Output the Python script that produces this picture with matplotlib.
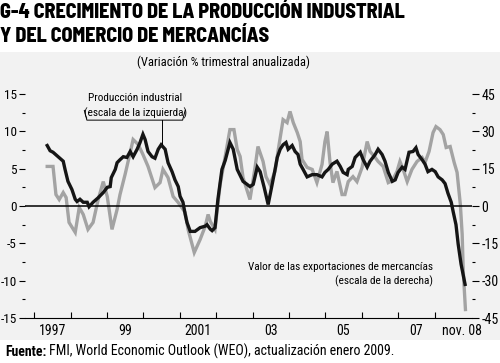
import matplotlib
matplotlib.use('Agg')
import matplotlib.pyplot as plt
from matplotlib.patches import Rectangle
from matplotlib import font_manager as fm

avail = set(f.name for f in fm.fontManager.ttflist)


def pick(cands):
    for c in cands:
        if c in avail:
            return c
    return 'DejaVu Sans'


BODY = pick(['Roboto Condensed', 'Archivo Narrow', 'Fira Sans Condensed', 'Barlow Semi Condensed',
             'Liberation Sans Narrow'])
TITLE = pick(['Barlow Semi Condensed', 'Roboto Condensed', 'Archivo Narrow', 'Fira Sans Condensed'])
plt.rcParams['font.family'] = [BODY, 'DejaVu Sans']
plt.rcParams['axes.unicode_minus'] = False

# Industrial production (left scale), dates in fractional years
ip_dates = [1997.36, 1997.44, 1997.52, 1997.66, 1997.80, 1997.85, 1997.93, 1998.04, 1998.13, 1998.18,
            1998.26, 1998.35, 1998.46, 1998.51, 1998.62, 1998.76, 1998.90, 1999.01, 1999.09, 1999.12,
            1999.23, 1999.28, 1999.36, 1999.45, 1999.55, 1999.64, 1999.72, 1999.83, 1999.91, 1999.99,
            2000.05, 2000.13, 2000.24, 2000.32, 2000.41, 2000.49, 2000.60, 2000.68, 2000.79, 2000.87,
            2000.96, 2001.01, 2001.09, 2001.15, 2001.20, 2001.29, 2001.42, 2001.56, 2001.70, 2001.75,
            2001.84, 2001.89, 2001.97, 2002.05, 2002.16, 2002.25, 2002.38, 2002.47, 2002.58, 2002.66,
            2002.74, 2002.85, 2002.93, 2003.02, 2003.13, 2003.21, 2003.32, 2003.43, 2003.54, 2003.62,
            2003.68, 2003.76, 2003.84, 2003.92, 2003.98, 2004.09, 2004.17, 2004.25, 2004.31, 2004.39,
            2004.50, 2004.64, 2004.77, 2004.91, 2004.99, 2005.08, 2005.19, 2005.32, 2005.41, 2005.49,
            2005.60, 2005.63, 2005.74, 2005.82, 2005.96, 2006.04, 2006.15, 2006.23, 2006.37, 2006.45,
            2006.56, 2006.64, 2006.73, 2006.84, 2006.92, 2007.00, 2007.11, 2007.19, 2007.30, 2007.41,
            2007.49, 2007.55, 2007.66, 2007.74, 2007.82, 2007.93, 2008.02, 2008.10, 2008.21, 2008.29,
            2008.37, 2008.46, 2008.51, 2008.59, 2008.65, 2008.73, 2008.84]
ip_values = [8.1, 7.4, 7.2, 6.6, 6.0, 4.9, 3.3, 2.2, 0.9, 0.6,
             0.9, 0.5, 0.5, -0.1, 0.5, 1.1, 1.8, 2.5, 2.6, 3.8,
             4.9, 5.8, 6.2, 6.6, 6.5, 7.3, 6.6, 7.6, 8.5, 9.6,
             8.9, 7.3, 6.6, 6.4, 7.6, 8.2, 7.6, 5.8, 4.6, 3.5,
             2.6, 1.3, 0.5, -1.1, -2.2, -3.4, -3.4, -2.9, -2.7, -2.5,
             -3.1, -3.3, -2.9, 0.9, 4.9, 6.1, 8.5, 7.6, 4.9, 4.1,
             3.3, 2.9, 2.6, 2.9, 5.2, 4.6, 2.5, 0.2, 2.9, 4.9,
             6.5, 7.6, 8.2, 8.5, 7.6, 8.1, 7.3, 6.9, 5.6, 4.9,
             3.9, 4.2, 4.2, 3.9, 4.5, 4.9, 5.6, 6.0, 5.3, 4.5,
             4.2, 4.9, 5.3, 6.5, 7.2, 6.2, 5.2, 6.0, 6.9, 7.6,
             6.9, 6.0, 4.5, 3.3, 3.5, 4.5, 5.2, 4.9, 7.2, 7.3,
             7.8, 6.9, 6.2, 5.6, 4.6, 4.9, 4.6, 3.9, 3.5, 3.0,
             1.7, 0.5, -0.7, -2.5, -5.1, -7.8, -10.5]

# Value of merchandise exports (right scale)
exp_dates = [1997.36, 1997.52, 1997.60, 1997.69, 1997.80, 1997.88, 1997.96, 1998.13, 1998.24, 1998.35,
             1998.48, 1998.62, 1998.76, 1998.90, 1999.01, 1999.14, 1999.28, 1999.36, 1999.50, 1999.64,
             1999.72, 1999.86, 1999.99, 2000.13, 2000.32, 2000.46, 2000.54, 2000.68, 2000.82, 2000.96,
             2001.15, 2001.23, 2001.40, 2001.56, 2001.70, 2001.78, 2001.84, 2001.97, 2002.11, 2002.25,
             2002.38, 2002.49, 2002.58, 2002.66, 2002.74, 2002.93, 2003.07, 2003.15, 2003.29, 2003.37,
             2003.48, 2003.62, 2003.70, 2003.84, 2003.95, 2004.03, 2004.12, 2004.23, 2004.31, 2004.36,
             2004.50, 2004.64, 2004.77, 2004.91, 2004.99, 2005.05, 2005.13, 2005.21, 2005.32, 2005.46,
             2005.54, 2005.63, 2005.76, 2005.87, 2006.01, 2006.15, 2006.23, 2006.37, 2006.45, 2006.59,
             2006.73, 2006.84, 2006.97, 2007.05, 2007.14, 2007.25, 2007.38, 2007.52, 2007.66, 2007.74,
             2007.85, 2007.96, 2008.04, 2008.15, 2008.24, 2008.32, 2008.43, 2008.54, 2008.62, 2008.71,
             2008.76, 2008.79, 2008.85]
exp_values = [15.9, 15.9, 4.6, 2.6, 5.4, 3.4, -6.6, -10.6, -0.6, -3.4,
              -9.4, -6.6, 2.6, 9.8, 3.8, -9.4, -1.4, 4.6, 12.7, 21.5,
              26.7, 24.7, 20.7, 15.9, 7.4, 9.4, 14.7, 11.4, 3.8, 1.4,
              -2.6, -9.4, -18.7, -13.5, -8.2, -3.4, -6.2, -9.4, 8.6, 19.9,
              30.7, 30.7, 22.7, 19.9, 11.4, 2.6, 15.5, 23.9, 17.9, 11.8,
              8.6, 13.9, 21.9, 34.7, 33.5, 38.0, 33.5, 29.5, 25.9, 18.7,
              15.5, 14.7, 9.4, 16.7, 25.9, 29.9, 17.5, 9.4, 13.9, 4.6,
              4.6, 9.8, 11.8, 9.8, 15.5, 25.9, 21.9, 19.5, 17.9, 15.9,
              9.4, 10.2, 13.9, 17.9, 14.7, 9.8, 14.7, 17.9, 19.5, 17.5,
              21.9, 29.5, 31.9, 30.7, 28.7, 23.5, 23.9, 17.5, 13.5, 0.6,
              -11.4, -26.3, -41.6]

year_ticks = list(range(1997, 2009))
year_label_pos = [1997.5, 1999.5, 2001.5, 2003.5, 2005.5, 2007.5, 2008.76]
year_labels = ['1997', '99', '2001', '03', '05', '07', 'nov. 08']
left_ticks = [15, 10, 5, 0, -5, -10, -15]
left_minor = [12.5, 7.5, 2.5, -2.5, -7.5, -12.5]
right_ticks = [45, 30, 15, 0, -15, -30, -45]
right_minor = [37.5, 22.5, 7.5, -7.5, -22.5, -37.5]

W, H = 500, 363
fig = plt.figure(figsize=(5, 3.63), dpi=100)
fig.add_artist(Rectangle((0, 1 - 340 / H), 1, (340 - 52) / H, transform=fig.transFigure,
                         facecolor='#f2f2f2', edgecolor='none', zorder=-5))


def fit(t, target):
    r = fig.canvas.get_renderer()
    w = t.get_window_extent(r).width
    if w > 0:
        t.set_fontsize(t.get_fontsize() * target / w)


ax = fig.add_axes([25 / W, 1 - 318 / H, (472 - 25) / W, 224 / H])
ax2 = ax.twinx()
ax.set_zorder(ax2.get_zorder() + 1)
ax.patch.set_visible(False)
ax2.patch.set_visible(False)

ax2.plot(exp_dates, exp_values, color='#a3a3a3', lw=2.4, solid_joinstyle='miter')
ax.plot(ip_dates, ip_values, color='#151515', lw=2.4, solid_joinstyle='miter')
ax.axhline(0, color='black', lw=1.1, zorder=1)

ax.set_xlim(1996.75, 2009.03)
ax.set_ylim(-15, 15)
ax2.set_ylim(-45, 45)

for a in (ax, ax2):
    for s in ('top', 'right', 'left'):
        a.spines[s].set_visible(False)
ax2.spines['bottom'].set_visible(False)
ax.spines['bottom'].set_linewidth(0.8)

ax.set_xticks(year_ticks)
ax.set_xticklabels([])
ax.set_xticks(year_label_pos, minor=True)
ax.set_xticklabels(year_labels, minor=True)
ax.tick_params(axis='x', which='major', direction='in', length=4, width=0.8)
ax.tick_params(axis='x', which='minor', length=0, pad=4, labelsize=10)

ax.set_yticks(left_ticks)
ax.set_yticks(left_minor, minor=True)
ax.tick_params(axis='y', which='major', direction='out', length=4.5, width=0.8, pad=1.5, labelsize=9.5)
ax.tick_params(axis='y', which='minor', direction='out', length=2.5, width=0.8)

ax2.set_yticks(right_ticks)
ax2.set_yticks(right_minor, minor=True)
ax2.tick_params(axis='y', which='major', direction='out', length=5, width=0.8, pad=2, labelsize=10)
ax2.tick_params(axis='y', which='minor', direction='out', length=2.5, width=0.8)

# annotations
a1 = ax.text(1999.78, 14.5, 'Producción industrial', ha='center', va='center', fontsize=9.5)
a2 = ax.text(1999.78, 12.4, '(escala de la izquierda)', ha='center', va='center', fontsize=9.5)
ax.plot([1998.38, 1998.45, 2001.08, 2001.15], [12.8, 11.5, 11.5, 12.8], color='black', lw=0.7)
ax.plot([2000.51, 2000.51], [11.5, 8.3], color='black', lw=0.7)
b1 = ax.text(2007.96, -8.2, 'Valor de las exportaciones de mercancías', ha='right', va='center', fontsize=9.5)
b2 = ax.text(2007.96, -10.1, '(escala de la derecha)', ha='right', va='center', fontsize=9.5)

# titles
t_a = fig.text(0.0, 1 - 18 / H, 'G-4 CRECIMIENTO DE LA PRODUCCIÓN INDUSTRIAL', ha='left', va='baseline',
               fontsize=13, fontweight='heavy', family=[TITLE, 'DejaVu Sans'])
t_b = fig.text(0.0, 1 - 42 / H, 'Y DEL COMERCIO DE MERCANCÍAS', ha='left', va='baseline',
               fontsize=13, fontweight='heavy', family=[TITLE, 'DejaVu Sans'])
sub = fig.text(223 / W, 1 - 62 / H, '(Variación % trimestral anualizada)', ha='center', va='center',
               fontsize=9.5)

t1 = fig.text(5 / W, 1 - 356 / H, 'Fuente:', ha='left', va='baseline', fontsize=10, fontweight='bold')
fig.canvas.draw()
fit(t_a, 405)
t_b.set_fontsize(t_a.get_fontsize())
fit(sub, 173)
fit(b1, 186)
b2.set_fontsize(b1.get_fontsize())
a1.set_fontsize(b1.get_fontsize())
a2.set_fontsize(b1.get_fontsize())
fig.canvas.draw()
bb = t1.get_window_extent()
fig.text((bb.x1 + 3) / W, 1 - 356 / H, 'FMI, World Economic Outlook (WEO), actualización enero 2009.',
         ha='left', va='baseline', fontsize=10)

fig.savefig('out.png', dpi=100)
